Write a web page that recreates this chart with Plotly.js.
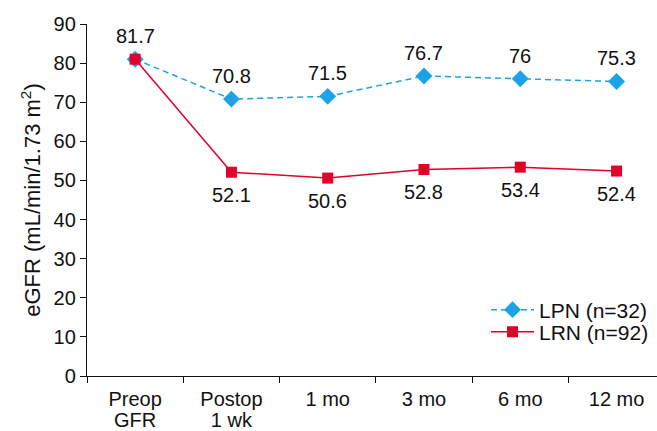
<!DOCTYPE html>
<html>
<head>
<meta charset="utf-8">
<script src="https://cdn.plot.ly/plotly-3.0.1.min.js"></script>
<style>html,body{margin:0;padding:0;background:#fff}#chart{width:657px;height:431px}</style>
</head>
<body>
<div id="chart"></div>
<script>
const categories = ["Preop GFR", "Postop 1 wk", "1 mo", "3 mo", "6 mo", "12 mo"];
const tickLine1 = ["Preop", "Postop", "1 mo", "3 mo", "6 mo", "12 mo"];
const tickLine2 = ["GFR", "1 wk", "", "", "", ""];
const lpnValues = [81.0, 70.8, 71.5, 76.7, 76.0, 75.3];
const lrnValues = [81.0, 52.1, 50.6, 52.8, 53.4, 52.4];
const lpnLabels = ["81.7", "70.8", "71.5", "76.7", "76", "75.3"];
const lrnLabels = ["", "52.1", "50.6", "52.8", "53.4", "52.4"];
const yTicks = [0, 10, 20, 30, 40, 50, 60, 70, 80, 90];

const FONT = "Liberation Sans, Arial, sans-serif";
const BLUE = "#1BA3E6";
const RED = "#E1002A";
const INK = "#111";
const idx = categories.map((c, i) => i);

const traces = [
  {
    x: categories, y: lpnValues, name: "LPN (n=32)", type: "scatter", mode: "lines+markers",
    line: {color: BLUE, width: 1.5, dash: "6px,4px"},
    marker: {symbol: "diamond", size: 13, color: BLUE},
    legend: "legend"
  },
  {
    x: categories, y: lrnValues, name: "LRN (n=92)", type: "scatter", mode: "lines+markers",
    line: {color: RED, width: 1.5},
    marker: {symbol: "square", size: 11, color: RED},
    legend: "legend2"
  },
  {
    x: idx, y: lpnValues, xaxis: "x2", yaxis: "y", type: "scatter", mode: "markers",
    marker: {opacity: 0, size: 1}, showlegend: false, hoverinfo: "skip"
  }
];

const annotations = [];
categories.forEach((c, i) => {
  if (lpnLabels[i]) annotations.push({x: c, y: lpnValues[i], text: lpnLabels[i], showarrow: false, yshift: 23, yanchor: "middle", font: {family: FONT, size: 20, color: INK}});
  if (lrnLabels[i]) annotations.push({x: c, y: lrnValues[i], text: lrnLabels[i], showarrow: false, yshift: -23, yanchor: "middle", font: {family: FONT, size: 20, color: INK}});
});

const legendBase = {xanchor: "left", yanchor: "middle", bgcolor: "rgba(0,0,0,0)", font: {family: FONT, size: 21, color: INK}, itemwidth: 43, borderwidth: 0};

const layout = {
  width: 657, height: 431,
  margin: {l: 87, r: 0, t: 24, b: 55},
  paper_bgcolor: "#fff", plot_bgcolor: "#fff",
  font: {family: FONT, size: 20, color: INK},
  showlegend: true,
  legend: Object.assign({}, legendBase, {x: 0.70, y: 0.1875}),
  legend2: Object.assign({}, legendBase, {x: 0.70, y: 0.125}),
  xaxis: {
    type: "category", range: [-0.5, 5.42], showline: true, linecolor: INK, linewidth: 1.2,
    categoryorder: "array", categoryarray: categories,
    tickvals: categories, ticktext: tickLine1,
    ticks: "outside", ticklen: 6, tickcolor: INK, tickson: "boundaries", showgrid: false, zeroline: false,
    tickfont: {family: FONT, size: 20, color: INK}, ticklabelstandoff: 5
  },
  xaxis2: {
    overlaying: "x", anchor: "y", side: "bottom", type: "linear", range: [-0.5, 5.42],
    tickmode: "array", tickvals: idx, ticktext: tickLine2, showline: false, showgrid: false, zeroline: false,
    ticks: "outside", ticklen: 6, tickcolor: "rgba(0,0,0,0)",
    tickfont: {family: FONT, size: 20, color: INK}, ticklabelstandoff: 20
  },
  yaxis: {
    range: [0, 90], tickvals: yTicks, showline: true, linecolor: INK, linewidth: 1.2,
    ticks: "outside", ticklen: 6, tickcolor: INK, showgrid: false, zeroline: false,
    tickfont: {family: FONT, size: 20, color: INK},
    title: {text: "eGFR (mL/min/1.73 m<sup>2</sup>)", font: {family: FONT, size: 22, color: INK}, standoff: 6}
  },
  annotations: annotations
};

Plotly.newPlot("chart", traces, layout, {displayModeBar: false, staticPlot: true});
</script>
</body>
</html>
